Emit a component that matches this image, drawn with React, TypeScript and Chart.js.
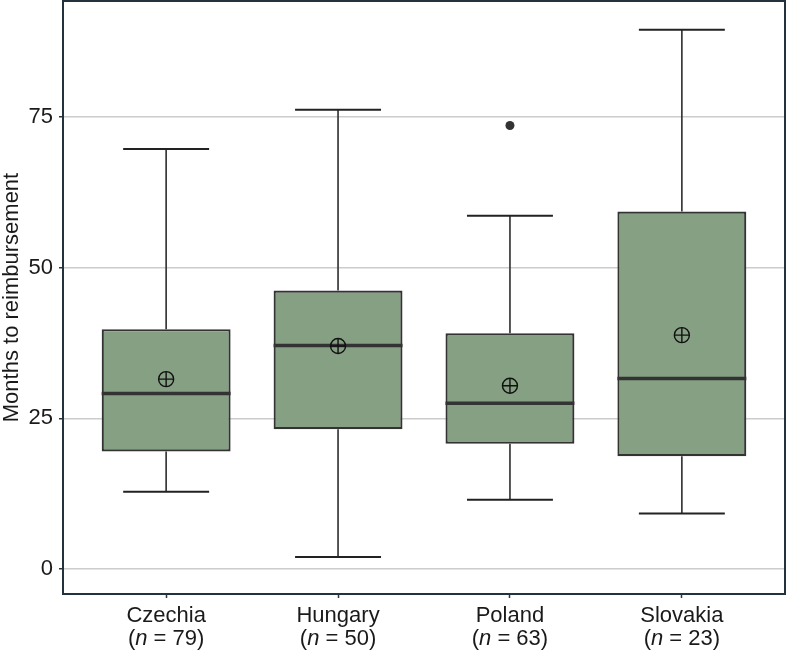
import { useEffect, useRef } from 'react';
import { Chart, registerables } from 'chart.js';

Chart.register(...registerables);

const categories = ['Czechia', 'Hungary', 'Poland', 'Slovakia'];
const sampleSizes = [79, 50, 63, 23];
const whiskerLow = [12.8, 2.0, 11.5, 9.2];
const quartile1 = [19.5, 23.2, 20.8, 18.7];
const medians = [29.1, 37.1, 27.5, 31.6];
const quartile3 = [39.8, 46.2, 39.1, 59.3];
const whiskerHigh = [69.7, 76.2, 58.6, 89.5];
const means = [31.5, 37.0, 30.4, 38.8];
const outlierCategories = ['Poland'];
const outlierValues = [73.6];
const yTickValues = [0, 25, 50, 75];
const yAxisTitle = 'Months to reimbursement';
const yRange = [-4.15, 94.25];

const FONT = "'Liberation Sans', Arial, Helvetica, sans-serif";
const BOX_WIDTH = 0.75;
const CAP_WIDTH = 0.5;

const pos = (i: number) => i + 1;

function buildWhiskers() {
  const pts: any[] = [];
  categories.forEach((_, i) => {
    const x = pos(i);
    pts.push({ x, y: quartile3[i] }, { x, y: whiskerHigh[i] }, { x, y: null });
    pts.push({ x, y: quartile1[i] }, { x, y: whiskerLow[i] }, { x, y: null });
  });
  return pts;
}

function buildCaps() {
  const pts: any[] = [];
  categories.forEach((_, i) => {
    const x = pos(i);
    const h = CAP_WIDTH / 2;
    pts.push({ x: x - h, y: whiskerHigh[i] }, { x: x + h, y: whiskerHigh[i] }, { x, y: null });
    pts.push({ x: x - h, y: whiskerLow[i] }, { x: x + h, y: whiskerLow[i] }, { x, y: null });
  });
  return pts;
}

function buildMedians() {
  const pts: any[] = [];
  categories.forEach((_, i) => {
    const x = pos(i);
    const h = BOX_WIDTH / 2;
    pts.push({ x: x - h, y: medians[i] }, { x: x + h, y: medians[i] }, { x, y: null });
  });
  return pts;
}

const zeroPadding = (scale: any) => {
  scale.paddingTop = 0;
  scale.paddingBottom = 0;
  scale.paddingLeft = 0;
  scale.paddingRight = 0;
};

const frameAndLabels = {
  id: 'frameAndLabels',
  afterDraw(chart: any) {
    const { ctx, chartArea: a, scales } = chart;
    ctx.save();
    ctx.strokeStyle = '#243240';
    ctx.lineWidth = 2;
    ctx.strokeRect(a.left, a.top, a.right - a.left, a.bottom - a.top);

    const xs = scales.x;
    ctx.fillStyle = '#1a1a1a';
    ctx.textBaseline = 'alphabetic';
    const normal = `22px ${FONT}`;
    const italic = `italic 22px ${FONT}`;
    categories.forEach((c, i) => {
      const px = xs.getPixelForValue(pos(i));
      ctx.font = normal;
      ctx.textAlign = 'center';
      ctx.fillText(c, px, a.bottom + 28);
      const pre = '(';
      const post = ` = ${sampleSizes[i]})`;
      ctx.textAlign = 'left';
      const wPre = ctx.measureText(pre).width;
      const wPost = ctx.measureText(post).width;
      ctx.font = italic;
      const wN = ctx.measureText('n').width;
      const sx = px - (wPre + wN + wPost) / 2;
      const by = a.bottom + 51;
      ctx.font = normal;
      ctx.fillText(pre, sx, by);
      ctx.font = italic;
      ctx.fillText('n', sx + wPre, by);
      ctx.font = normal;
      ctx.fillText(post, sx + wPre + wN, by);
    });
    ctx.restore();
  },
};

export default function App() {
  const canvasRef = useRef<HTMLCanvasElement | null>(null);

  useEffect(() => {
    if (!canvasRef.current) return;
    const chart = new Chart(canvasRef.current, {
      type: 'bar',
      data: {
        datasets: [
          {
            type: 'scatter',
            label: 'mean-circle',
            data: categories.map((_, i) => ({ x: pos(i), y: means[i] })),
            pointStyle: 'circle',
            pointRadius: 7.5,
            pointBackgroundColor: 'rgba(0,0,0,0)',
            pointBorderColor: '#111111',
            pointBorderWidth: 1.4,
            order: 1,
          } as any,
          {
            type: 'scatter',
            label: 'mean-cross',
            data: categories.map((_, i) => ({ x: pos(i), y: means[i] })),
            pointStyle: 'cross',
            pointRadius: 7.5,
            pointBorderColor: '#111111',
            pointBorderWidth: 1.4,
            order: 1,
          } as any,
          {
            type: 'scatter',
            label: 'outliers',
            data: outlierValues.map((v, k) => ({ x: pos(categories.indexOf(outlierCategories[k])), y: v })),
            pointStyle: 'circle',
            pointRadius: 4.5,
            pointBackgroundColor: '#333333',
            pointBorderWidth: 0,
            order: 1,
          } as any,
          {
            type: 'line',
            label: 'medians',
            data: buildMedians(),
            borderColor: '#333333',
            borderWidth: 3.5,
            borderCapStyle: 'butt',
            pointRadius: 0,
            spanGaps: false,
            order: 2,
          } as any,
          {
            type: 'line',
            label: 'caps',
            data: buildCaps(),
            borderColor: '#222222',
            borderWidth: 2,
            borderCapStyle: 'butt',
            pointRadius: 0,
            spanGaps: false,
            order: 3,
          } as any,
          {
            type: 'line',
            label: 'whiskers',
            data: buildWhiskers(),
            borderColor: '#3a3a3a',
            borderWidth: 1.7,
            borderCapStyle: 'butt',
            pointRadius: 0,
            spanGaps: false,
            order: 3,
          } as any,
          {
            type: 'bar',
            label: 'boxes',
            data: categories.map((_, i) => ({ x: pos(i), y: [quartile1[i], quartile3[i]] })),
            backgroundColor: '#86a083',
            borderColor: '#333333',
            borderWidth: 2.2,
            borderSkipped: false,
            categoryPercentage: 1,
            barPercentage: BOX_WIDTH,
            order: 5,
          } as any,
        ],
      },
      options: {
        animation: false,
        responsive: false,
        maintainAspectRatio: false,
        devicePixelRatio: 1,
        events: [],
        layout: { autoPadding: false, padding: { top: 1, right: 2, left: 0, bottom: 0 } },
        plugins: {
          legend: { display: false },
          tooltip: { enabled: false },
        },
        scales: {
          x: {
            type: 'linear',
            min: 0.4,
            max: 4.6,
            offset: false,
            afterBuildTicks: (scale: any) => {
              scale.ticks = categories.map((_, i) => ({ value: pos(i) }));
            },
            afterFit: (scale: any) => {
              scale.height = 58;
              zeroPadding(scale);
            },
            grid: {
              display: true,
              offset: false,
              drawOnChartArea: false,
              drawTicks: true,
              tickLength: 4,
              tickColor: '#333333',
              tickWidth: 1.5,
            },
            border: { display: false },
            ticks: { display: false },
          },
          y: {
            type: 'linear',
            min: yRange[0],
            max: yRange[1],
            afterBuildTicks: (scale: any) => {
              scale.ticks = yTickValues.map((v) => ({ value: v }));
            },
            afterFit: (scale: any) => {
              scale.width = 63;
              zeroPadding(scale);
            },
            grid: {
              color: '#cccccc',
              lineWidth: 1.5,
              drawTicks: true,
              tickLength: 4,
              tickColor: '#333333',
              tickWidth: 1.5,
            },
            border: { display: false },
            ticks: {
              color: '#1a1a1a',
              padding: 6,
              font: { family: FONT, size: 22 },
            },
            title: {
              display: true,
              text: yAxisTitle,
              color: '#1a1a1a',
              padding: 0,
              font: { family: FONT, size: 22, lineHeight: 1.05 },
            },
          },
        },
      },
      plugins: [frameAndLabels],
    } as any);
    return () => chart.destroy();
  }, []);

  return (
    <div style={{ position: 'fixed', left: 0, top: 0, width: 787, height: 652, background: '#ffffff' }}>
      <canvas ref={canvasRef} width={787} height={652} style={{ display: 'block' }} />
    </div>
  );
}
